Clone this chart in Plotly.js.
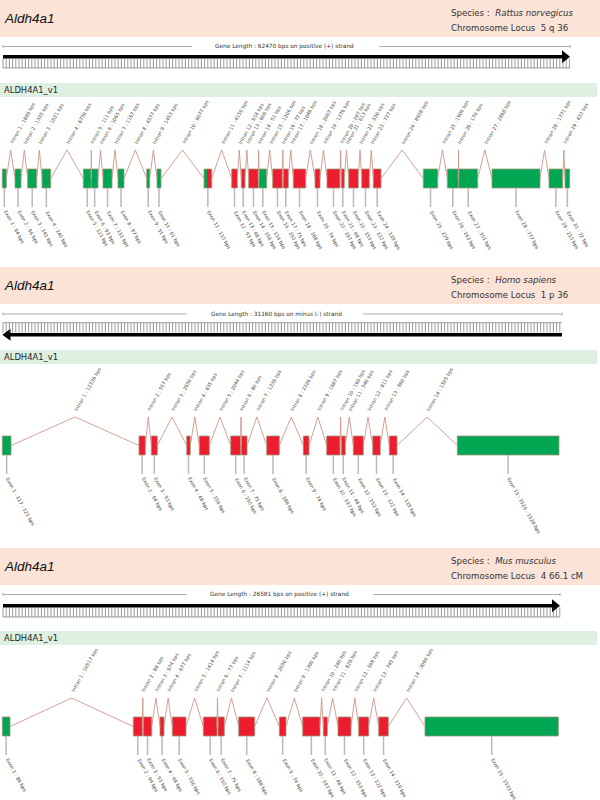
<!DOCTYPE html>
<html>
<head>
<meta charset="utf-8">
<script src="https://cdn.plot.ly/plotly-3.0.1.min.js"></script>
<style>
  body { margin: 0; background: #fff; }
  #myDiv { width: 600px; height: 800px; }
</style>
</head>
<body>
<div id="myDiv"></div>
<script>
// ------------------------------ values ------------------------------
var geneName = 'Aldh4a1';
var transcriptName = 'ALDH4A1_v1';
var speciesNames = ['Rattus norvegicus', 'Homo sapiens', 'Mus musculus'];
var chromLocus = ['5 q 36', '1 p 36', '4 66.1 cM'];
var geneLength = [62470, 31160, 26581];
var strandText = ['positive (+)', 'minus (-)', 'positive (+)'];

// Rattus norvegicus : 30 exons (start / end along the drawn gene axis)
var ratExonStart = [2.3, 15, 27.7, 42, 83.3, 91.3, 103, 118, 146.7, 157, 204, 231.7, 241.3, 248.7, 259,
                    272.7, 283.3, 293.3, 315, 327, 341.3, 348.7, 361.7, 373.3, 423.3, 447.3, 458.7, 492, 549, 565];
var ratExonEnd   = [6.3, 21, 36.7, 50.7, 91.3, 98, 112, 124, 149.7, 161, 211.7, 237.3, 245, 258.3, 266.7,
                    282.3, 288.3, 305.7, 320, 340, 344.3, 358.3, 369.3, 381, 437.7, 458.3, 477.7, 540, 562.7, 569.7];
var ratExonBp    = [64, 96, 141, 140, 121, 93, 131, 97, 51, 61, 110, 93, 48, 156, 114,
                    150, 75, 188, 74, 197, 48, 153, 122, 119, 229, 163, 301, 777, 210, 72];
// U = untranslated (green), C = coding (red), UC = untranslated then coding
var ratExonKind  = ['U','U','U','U','U','U','U','U','U','U','UC','C','C','C','U',
                    'C','C','C','C','C','C','C','C','C','U','U','U','U','U','U'];
var ratExonSplit = [null,null,null,null,null,null,null,null,null,null,207,null,null,null,null,
                    null,null,null,null,null,null,null,null,null,null,null,null,null,null,null];
var ratIntronBp  = [1886, 1335, 1021, 6750, 111, 1065, 1167, 4577, 1453, 9077, 4150, 618, 606, 51,
                    1206, 77, 1046, 2007, 1376, 287, 613, 550, 727, 8938, 1900, 170, 2868, 1771, 433];

// Homo sapiens : 15 exons
var humExonStart = [2.3, 139, 151.3, 186.7, 199.3, 230.7, 241.3, 266.7, 303.3, 326.7, 341.3, 353.3, 372.7, 389.3, 457.3];
var humExonEnd   = [11, 145.3, 157.3, 190.3, 209.3, 240.7, 247, 279.3, 309, 340, 345.3, 363.3, 380.3, 397, 559];
var humExonBp    = ['117 - 121', 94, 93, 48, 156, 150, 75, 188, 74, 197, 48, 153, 122, 119, '1526 - 1528'];
var humExonKind  = ['U','C','C','C','C','C','C','C','C','C','C','C','C','C','U'];
var humIntronBp  = [12336, 557, 2650, 835, 2044, 80, 1236, 2326, 1687, 160, 540, 811, 860, 1505];

// Mus musculus : 15 exons
var musExonStart = [2.3, 133.3, 143.3, 160, 172.3, 203.3, 218, 238.7, 279.3, 302.7, 323.3, 338, 358.7, 378.7, 425];
var musExonEnd   = [10, 142.3, 151.7, 164, 186, 217, 224.3, 254.7, 286, 320, 327.3, 351, 368.7, 388.3, 558.3];
var musExonBp    = [88, 94, 93, 48, 156, 150, 75, 188, 74, 197, 48, 153, 122, 119, 1533];
var musExonKind  = ['U','C','C','C','C','C','C','C','C','C','C','C','C','C','U'];
var musIntronBp  = [10517, 88, 674, 677, 1414, 77, 1114, 2050, 1390, 240, 828, 569, 745, 3060];

// ------------------------------ layout of the three panels ------------------------------
var panelTop   = [0, 267, 548];
var rulerEnd   = [570, 562, 560];
var lineY      = [46.5, 314, 594.5];
var gapLeft    = [192, 187, 187];
var gapRight   = [379, 363, 373];
var textMid    = [284, 276, 279];
var arrowY     = [56.7, 334.7, 605.7];
var tickTop    = [58.3, 322.7, 607.3];
var tickBot    = [68, 332.7, 617];
var baseY      = [68, 322.7, 617];

var GREEN = 'rgb(0,166,81)';
var RED = 'rgb(237,28,46)';
var BOX_LINE = 'rgb(160,150,120)';
var INTRON = 'rgb(205,150,138)';
var LABEL = '#444';
var labelFont = {family: 'DejaVu Sans, Verdana, sans-serif', size: 4.8, color: LABEL};

var shapes = [];
var annotations = [];
var traces = [];

function rect(x0, x1, y0, y1, fill, lineColor, lineWidth) {
  shapes.push({type: 'rect', xref: 'x', yref: 'y', x0: x0, x1: x1, y0: y0, y1: y1,
    fillcolor: fill, line: {color: lineColor || 'rgba(0,0,0,0)', width: lineWidth || 0}, layer: 'below'});
}
function seg(x0, y0, x1, y1, color, width) {
  shapes.push({type: 'line', xref: 'x', yref: 'y', x0: x0, y0: y0, x1: x1, y1: y1,
    line: {color: color, width: width}, layer: 'below'});
}
function txt(x, y, text, font, xanchor, yanchor, angle) {
  annotations.push({x: x, y: y, xref: 'x', yref: 'y', text: text, showarrow: false,
    font: font, xanchor: xanchor || 'left', yanchor: yanchor || 'middle',
    textangle: angle || 0, borderpad: 0});
}

function drawPanel(p, exStart, exEnd, exBp, exKind, exSplit, inBp) {
  var off = panelTop[p];
  var end = rulerEnd[p];

  // header band + transcript band
  rect(0, 600, off, off + 37, 'rgb(252,227,215)');
  rect(0, 597, off + 83, off + 97, 'rgb(221,240,226)');
  txt(3, off + 18, '<i>' + geneName + '</i>', {family: 'Liberation Sans, Arial, sans-serif', size: 13.5, color: '#111'});
  txt(450, off + 13, 'Species :  <i>' + speciesNames[p] + '</i>', {family: 'DejaVu Sans, Verdana, sans-serif', size: 8.6, color: '#333'});
  txt(450, off + 28, 'Chromosome Locus  ' + chromLocus[p], {family: 'DejaVu Sans, Verdana, sans-serif', size: 8.6, color: '#333'});
  txt(3, off + 90, transcriptName, {family: 'DejaVu Sans, Verdana, sans-serif', size: 8.4, color: '#222'});

  // gene length line
  var ly = lineY[p];
  seg(3, ly, gapLeft[p], ly, '#999', 0.8);
  seg(gapRight[p], ly, end, ly, '#999', 0.8);
  seg(3, ly - 1.5, 3, ly + 1.5, '#999', 0.8);
  seg(end, ly - 1.5, end, ly + 1.5, '#999', 0.8);
  txt(textMid[p], ly, 'Gene Length : ' + geneLength[p] + ' bps on ' + strandText[p] + ' strand',
      {family: 'DejaVu Sans, Verdana, sans-serif', size: 5.8, color: '#333'}, 'center', 'middle');

  // scale ruler
  var tx = [], ty = [];
  for (var x = 3; x <= end + 0.1; x += 3.2) {
    tx.push(x, x, null);
    ty.push(tickTop[p], tickBot[p], null);
  }
  traces.push({x: tx, y: ty, mode: 'lines', line: {color: '#555', width: 0.6}, hoverinfo: 'skip', showlegend: false});
  seg(3, baseY[p], end, baseY[p], '#888', 0.8);

  // strand arrow
  var ay = arrowY[p];
  if (strandText[p].indexOf('minus') === 0) {
    seg(9, ay, end, ay, '#000', 3.4);
    shapes.push({type: 'path', xref: 'x', yref: 'y', path: 'M 10.5 ' + (ay - 6) + ' L 2.3 ' + ay + ' L 10.5 ' + (ay + 6) + ' Z',
      fillcolor: '#000', line: {width: 0}, layer: 'below'});
  } else {
    seg(3, ay, end - 6, ay, '#000', 3.4);
    shapes.push({type: 'path', xref: 'x', yref: 'y', path: 'M ' + (end - 8) + ' ' + (ay - 6.5) + ' L ' + end + ' ' + ay + ' L ' + (end - 8) + ' ' + (ay + 6.5) + ' Z',
      fillcolor: '#000', line: {width: 0}, layer: 'below'});
  }

  // gene structure
  var peakY = off + 150, boxTop = off + 169, boxBot = off + 188, mid = off + 178.5, stemBot = off + 207;

  // introns
  var ix = [], iy = [];
  for (var i = 0; i < inBp.length; i++) {
    var peak = (exEnd[i] + exStart[i + 1]) / 2;
    ix.push(exEnd[i], peak, exStart[i + 1], null);
    iy.push(mid, peakY, mid, null);
    txt(peak - 2.8, peakY - 4, 'Intron ' + (i + 1) + ' : ' + inBp[i] + ' bps', labelFont, 'left', 'bottom', -61);
  }
  traces.push({x: ix, y: iy, mode: 'lines', line: {color: INTRON, width: 0.9}, hoverinfo: 'skip', showlegend: false});

  // exons + stems
  var sx = [], sy = [];
  for (var j = 0; j < exStart.length; j++) {
    var k = exKind[j];
    if (k === 'UC') {
      rect(exStart[j], exSplit[j], boxTop, boxBot, GREEN);
      rect(exSplit[j], exEnd[j], boxTop, boxBot, RED);
      rect(exStart[j], exEnd[j], boxTop, boxBot, 'rgba(0,0,0,0)', BOX_LINE, 0.8);
    } else {
      rect(exStart[j], exEnd[j], boxTop, boxBot, k === 'U' ? GREEN : RED, BOX_LINE, 0.8);
    }
    var c = (exStart[j] + exEnd[j]) / 2;
    sx.push(c, c, null);
    sy.push(boxBot, stemBot, null);
    txt(c - 2.8, stemBot + 1.5, 'Exon ' + (j + 1) + ' : ' + exBp[j] + ' bps', labelFont, 'left', 'top', 61);
  }
  traces.push({x: sx, y: sy, mode: 'lines', line: {color: 'rgb(185,185,185)', width: 1.5}, hoverinfo: 'skip', showlegend: false});
}

function noSplit(n) { var a = []; for (var i = 0; i < n; i++) a.push(null); return a; }

drawPanel(0, ratExonStart, ratExonEnd, ratExonBp, ratExonKind, ratExonSplit, ratIntronBp);
drawPanel(1, humExonStart, humExonEnd, humExonBp, humExonKind, noSplit(humExonStart.length), humIntronBp);
drawPanel(2, musExonStart, musExonEnd, musExonBp, musExonKind, noSplit(musExonStart.length), musIntronBp);

var layout = {
  width: 600,
  height: 800,
  margin: {l: 0, r: 0, t: 0, b: 0},
  paper_bgcolor: '#fff',
  plot_bgcolor: '#fff',
  showlegend: false,
  xaxis: {range: [0, 600], visible: false, fixedrange: true},
  yaxis: {range: [800, 0], visible: false, fixedrange: true},
  shapes: shapes,
  annotations: annotations
};

Plotly.newPlot('myDiv', traces, layout, {displayModeBar: false, staticPlot: true});
</script>
</body>
</html>
